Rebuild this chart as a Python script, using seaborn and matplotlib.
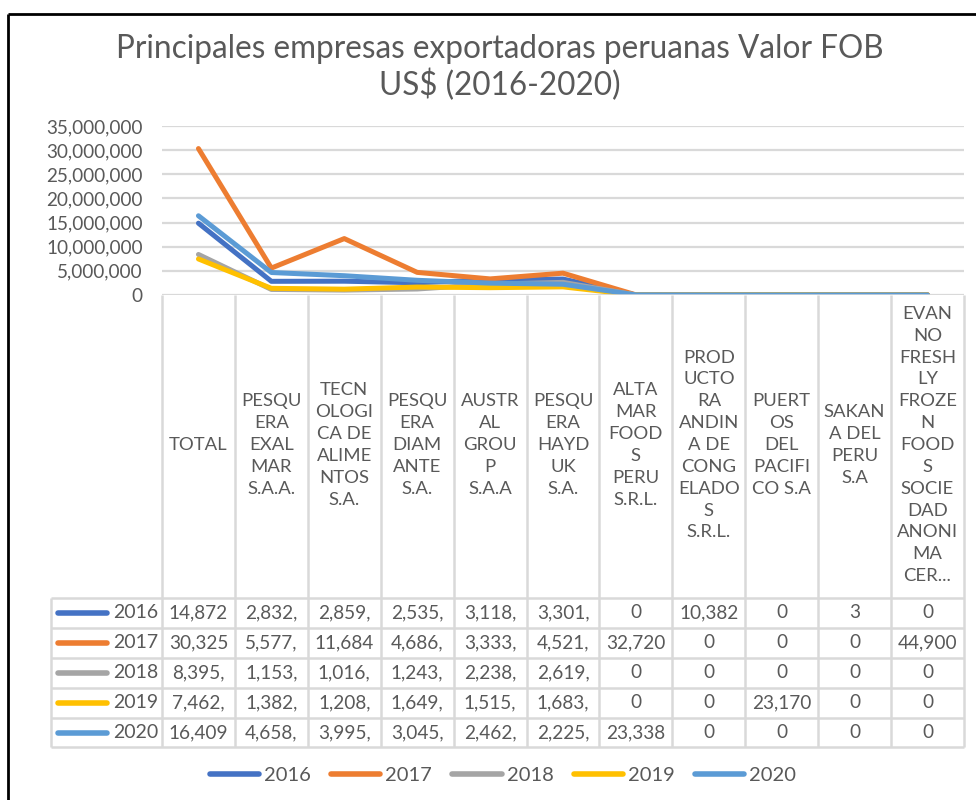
import numpy as np
import pandas as pd
import seaborn as sns
import matplotlib.pyplot as plt
from matplotlib.transforms import blended_transform_factory

# datos: valor FOB US$ por empresa y año
empresas = ['TOTAL', 'PESQUERA EXALMAR S.A.A.', 'TECNOLOGICA DE ALIMENTOS S.A.',
            'PESQUERA DIAMANTE S.A.', 'AUSTRAL GROUP S.A.A', 'PESQUERA HAYDUK S.A.',
            'ALTA MAR FOODS PERU S.R.L.', 'PRODUCTORA ANDINA DE CONGELADOS S.R.L.',
            'PUERTOS DEL PACIFICO S.A', 'SAKANA DEL PERU S.A',
            'EVANNO FRESHLY FROZEN FOODS SOCIEDAD ANONIMA CER...']
etiquetas = ['TOTAL',
             'PESQU\nERA\nEXAL\nMAR\nS.A.A.',
             'TECN\nOLOGI\nCA DE\nALIME\nNTOS\nS.A.',
             'PESQU\nERA\nDIAM\nANTE\nS.A.',
             'AUSTR\nAL\nGROU\nP\nS.A.A',
             'PESQU\nERA\nHAYD\nUK\nS.A.',
             'ALTA\nMAR\nFOOD\nS\nPERU\nS.R.L.',
             'PROD\nUCTO\nRA\nANDIN\nA DE\nCONG\nELADO\nS\nS.R.L.',
             'PUERT\nOS\nDEL\nPACIFI\nCO S.A',
             'SAKAN\nA DEL\nPERU\nS.A',
             'EVAN\nNO\nFRESH\nLY\nFROZE\nN\nFOOD\nS\nSOCIE\nDAD\nANONI\nMA\nCER...']
anios = ['2016', '2017', '2018', '2019', '2020']
v2016 = [14872000, 2832000, 2859000, 2535000, 3118000, 3301000, 0, 10382, 0, 3, 0]
v2017 = [30325000, 5577000, 11684000, 4686000, 3333000, 4521000, 32720, 0, 0, 0, 44900]
v2018 = [8395000, 1153000, 1016000, 1243000, 2238000, 2619000, 0, 0, 0, 0, 0]
v2019 = [7462000, 1382000, 1208000, 1649000, 1515000, 1683000, 0, 0, 23170, 0, 0]
v2020 = [16409000, 4658000, 3995000, 3045000, 2462000, 2225000, 23338, 0, 0, 0, 0]
colores = ['#4472C4', '#ED7D31', '#A5A5A5', '#FFC000', '#5B9BD5']

series = [v2016, v2017, v2018, v2019, v2020]
df = pd.DataFrame({
    'empresa': empresas * len(anios),
    'anio': np.repeat(anios, len(empresas)),
    'valor': np.concatenate(series),
})

sns.set_style('white')
plt.rcParams['font.family'] = ['Lato', 'DejaVu Sans']
gris_txt = '#595959'
gris_lin = '#D9D9D9'

fig = plt.figure(figsize=(9.76, 8), dpi=100)

# capa de fondo en pixeles (marco, tabla)
bg = fig.add_axes([0, 0, 1, 1])
bg.set_xlim(0, 976)
bg.set_ylim(800, 0)
bg.axis('off')

W, H = 976, 800
ax = fig.add_axes([162 / W, 1 - 295 / H, (964 - 162) / W, (295 - 126) / H])
ax.patch.set_alpha(0)

sns.lineplot(data=df, x='empresa', y='valor', hue='anio', palette=colores,
             linewidth=3.6, sort=False, ax=ax, solid_capstyle='round')

ax.set_xlim(-0.5, len(empresas) - 0.5)
ax.set_ylim(0, 35000000)
ax.set_yticks(np.arange(0, 35000001, 5000000))
ax.set_yticklabels([f'{int(v):,}' for v in ax.get_yticks()])
ax.yaxis.grid(True, color=gris_lin, linewidth=1.6)
ax.set_axisbelow(True)
for s in ax.spines.values():
    s.set_visible(False)
ax.set_xlabel('')
ax.set_ylabel('')
ax.tick_params(axis='y', length=0, pad=14, labelsize=13.6, labelcolor=gris_txt)
ax.set_xticks(range(len(empresas)))
ax.set_xticklabels(etiquetas, linespacing=1.45, va='center')
ax.tick_params(axis='x', length=0, pad=108, labelsize=13.3, labelcolor=gris_txt)

handles, labels = ax.get_legend_handles_labels()
ax.get_legend().remove()

# marco exterior
bg.plot([8, 8], [800, 14], color='black', lw=2, solid_capstyle='butt')
bg.plot([8, 976], [14, 14], color='black', lw=2, solid_capstyle='butt')

fig.text(500 / W, 1 - 49 / H, 'Principales empresas exportadoras peruanas Valor FOB',
         ha='center', va='center', fontsize=22.7, color=gris_txt)
fig.text(500 / W, 1 - 85 / H, 'US$ (2016-2020)',
         ha='center', va='center', fontsize=22.7, color=gris_txt)

# tabla de datos
tr = blended_transform_factory(ax.transData, bg.transData)
filas = [598, 628, 658, 688, 718, 747]
n = len(empresas)
for xv in [i - 0.5 for i in range(n + 1)]:
    bg.plot([xv, xv], [295, 747], color=gris_lin, lw=1.8, transform=tr, solid_capstyle='butt')
ax.axhline(0, color=gris_lin, lw=1.8)
bg.plot([51, 51], [598, 747], color=gris_lin, lw=1.8, solid_capstyle='butt')
for yv in filas:
    bg.plot([51, 964], [yv, yv], color=gris_lin, lw=1.8, solid_capstyle='butt')

for k, (anio, vals, c) in enumerate(zip(anios, series, colores)):
    yc = (filas[k] + filas[k + 1]) / 2
    bg.plot([58, 107], [yc, yc], color=c, lw=4, solid_capstyle='round')
    bg.text(158, yc, anio, ha='right', va='center', fontsize=14, color=gris_txt)
    for i, v in enumerate(vals):
        bg.text(i, yc, f'{v:,}'[:6], ha='center', va='center', fontsize=13.7,
                color=gris_txt, transform=tr)

fig.legend(handles, labels, loc='center', bbox_to_anchor=(503 / W, 1 - 775 / H),
           ncol=5, frameon=False, fontsize=14.5, labelcolor=gris_txt,
           handlelength=2.45, handletextpad=0.25, columnspacing=1.0)
for h in fig.legends[0].get_lines():
    h.set_linewidth(4)

fig.savefig('out.png', dpi=100)
